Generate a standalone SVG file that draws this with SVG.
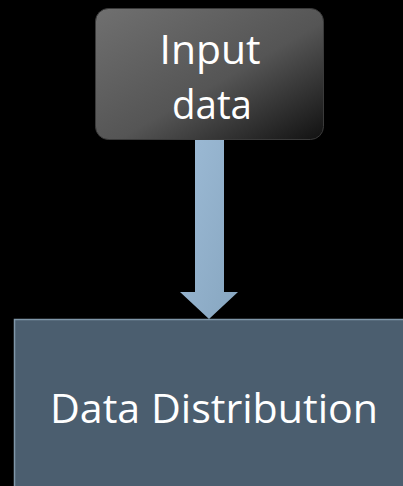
<svg xmlns="http://www.w3.org/2000/svg" width="403" height="486" viewBox="0 0 403 486">
<defs>
<linearGradient id="g1" x1="0" y1="0" x2="1" y2="1">
<stop offset="0" stop-color="#707070"/>
<stop offset="0.55" stop-color="#555555"/>
<stop offset="1" stop-color="#111111"/>
</linearGradient>
<linearGradient id="g2" x1="0" y1="0" x2="1" y2="1">
<stop offset="0" stop-color="#9dbbd6"/>
<stop offset="1" stop-color="#87a6c0"/>
</linearGradient>
<style>
.t{font-family:"Open Sans","Liberation Sans",sans-serif;fill:#ffffff;text-anchor:middle;}
</style>
</defs>
<rect width="403" height="486" fill="#000000"/>
<g id="connectors">
<path d="M195,139 H224 V292 H238 L209,319 L180,292 H195 Z" fill="url(#g2)"/>
</g>
<g id="input">
<rect x="95.5" y="8.5" width="228" height="131" rx="13" fill="url(#g1)" stroke="#3a3a3a" stroke-width="1"/>
<text class="t" x="210" y="64" font-size="40" textLength="101" lengthAdjust="spacingAndGlyphs">Input</text>
<text class="t" x="212" y="119" font-size="40" textLength="80" lengthAdjust="spacingAndGlyphs">data</text>
</g>
<g id="distribution">
<rect x="14.5" y="319.5" width="400" height="180" fill="#4b5e6f" stroke="#7f96a8" stroke-width="1.5"/>
<text class="t" x="214" y="423" font-size="40" textLength="328" lengthAdjust="spacingAndGlyphs">Data Distribution</text>
</g>
</svg>
